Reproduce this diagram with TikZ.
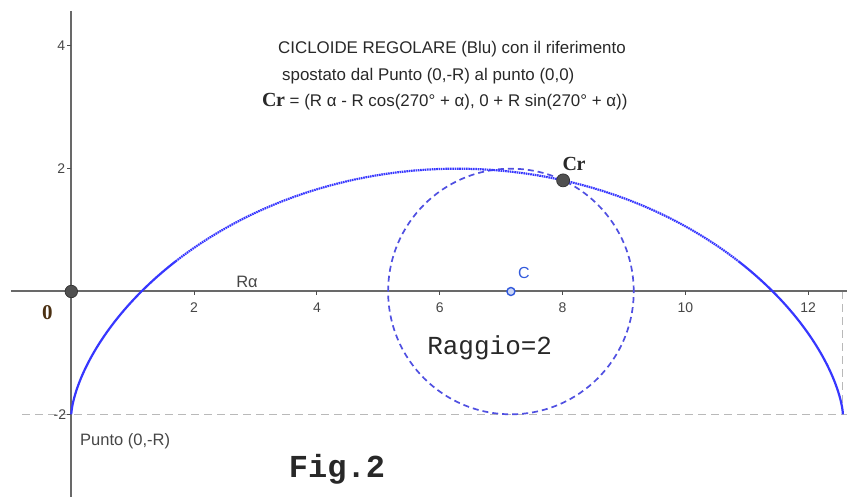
\documentclass[tikz,border=0pt]{standalone}
\usepackage{fontspec}
\setmainfont{Liberation Sans}
\newfontfamily\serifcr{Liberation Serif}
\newfontfamily\monofont{Liberation Mono}
\definecolor{axisgray}{RGB}{105,105,105}
\definecolor{dashgray}{RGB}{185,185,185}
\definecolor{cycblue}{RGB}{55,55,255}
\definecolor{circblue}{RGB}{80,80,225}
\definecolor{cblue}{RGB}{50,90,220}
\definecolor{txtgray}{RGB}{40,40,40}
\definecolor{labgray}{RGB}{70,70,70}
\definecolor{ptfill}{RGB}{80,80,80}
\definecolor{zerocol}{RGB}{75,48,18}
\tikzset{
  axisline/.style={draw=axisgray, line width=2pt},
  guide/.style={draw=dashgray, line width=1pt, dash pattern=on 8pt off 5pt},
  ticklab/.style={font=\fontsize{14}{16}\selectfont, text=labgray, inner sep=1pt},
  titletxt/.style={font=\fontsize{16.9}{18}\selectfont, text=txtgray, inner sep=0pt, anchor=west},
  bigpt/.style={circle, fill=ptfill, draw=black!80, line width=0.7pt, minimum size=12.5pt, inner sep=0pt},
  crlab/.style={font=\serifcr\bfseries\fontsize{20}{22}\selectfont, text=txtgray, inner sep=0pt},
}
\begin{document}
\begin{tikzpicture}[x=61.4pt, y=61.4pt]
\useasboundingbox (-71.3pt,-205.5pt) rectangle (775.7pt,291.5pt);
% guide lines
\draw[guide] (-49pt,-2) -- (775.7pt,-2);
\draw[guide] ({4*pi},0) -- ({4*pi},-2);
% axes
\draw[axisline] (-60.3pt,0) -- (775.7pt,0);
\draw[axisline] (0,280.5pt) -- (0,-205.5pt);
% ticks
\foreach \k in {2,4,6,8,10,12} {
  \draw[black!70, line width=1pt] (\k,0) -- ++(0,-4pt);
  \node[ticklab] at (\k,-16pt) {\k};
}
\foreach \k in {4,2} {
  \draw[black!70, line width=1pt] (0,\k) -- ++(-4pt,0);
  \node[ticklab, anchor=east] at (-5pt,\k) {\k};
}
\draw[black!70, line width=1pt] (0,-2) -- ++(-4pt,0);
\node[ticklab, anchor=east] at (-4pt,-2) {-2};
% rolling circle
\draw[circblue, line width=1.7pt, dash pattern=on 6pt off 4pt] (7.16,0) circle (2);
% cycloid
\draw[cycblue, line width=2.2pt] plot[domain=0:1.82, samples=60, variable=\t] ({2*\t-2*sin(\t r)}, {-2*cos(\t r)});
\draw[cycblue, line width=2.2pt] plot[domain=4.463:6.2832, samples=60, variable=\t] ({2*\t-2*sin(\t r)}, {-2*cos(\t r)});
\draw[cycblue, line width=2.2pt, dash pattern=on 1.6pt off 0.7pt] plot[domain=1.82:4.463, samples=120, variable=\t] ({2*\t-2*sin(\t r)}, {-2*cos(\t r)});
% points
\node[bigpt] (O) at (0,0) {};
\node[bigpt, minimum size=13pt] (Cr) at (8.01,1.81) {};
\node[circle, draw=cblue, fill=cblue!25, line width=1.4pt, minimum size=8pt, inner sep=0pt] (C) at (7.16,0) {};
% labels
\node[font=\fontsize{16}{18}\selectfont, text=cblue] (Clab) at (452.7pt,18.5pt) {C};
\node[crlab] (Crlab) at (502.7pt,127.5pt) {C\kern-0.5pt r};
\node[font=\serifcr\bfseries\fontsize{21}{23}\selectfont, text=zerocol] (zero) at (-23.8pt,-21.5pt) {0};
\node[font=\fontsize{16.5}{18}\selectfont, text=labgray] (Ra) at (175.7pt,9.5pt) {Rα};
\node[font=\fontsize{16.5}{18}\selectfont, text=labgray, anchor=west, inner sep=0pt] (punto) at (8.7pt,-149.5pt) {Punto (0,-R)};
\node[font=\monofont\fontsize{26}{28}\selectfont, text=txtgray] (raggio) at (418.4pt,-56.5pt) {Raggio=2};
\node[font=\monofont\bfseries\fontsize{32}{34}\selectfont, text=txtgray] (fig) at (265.7pt,-177.5pt) {Fig.2};
% title
\node[titletxt] (t1) at (206.7pt,242.5pt) {CICLOIDE REGOLARE (Blu) con il riferimento};
\node[titletxt] (t2) at (210.7pt,215.5pt) {spostato dal Punto (0,-R) al punto (0,0)};
\node[titletxt] (t3) at (190.7pt,189.5pt) {{\serifcr\bfseries\fontsize{20}{22}\selectfont C\kern-0.5pt r} = (R α - R cos(270° + α), 0 + R sin(270° + α))};
\end{tikzpicture}
\end{document}
